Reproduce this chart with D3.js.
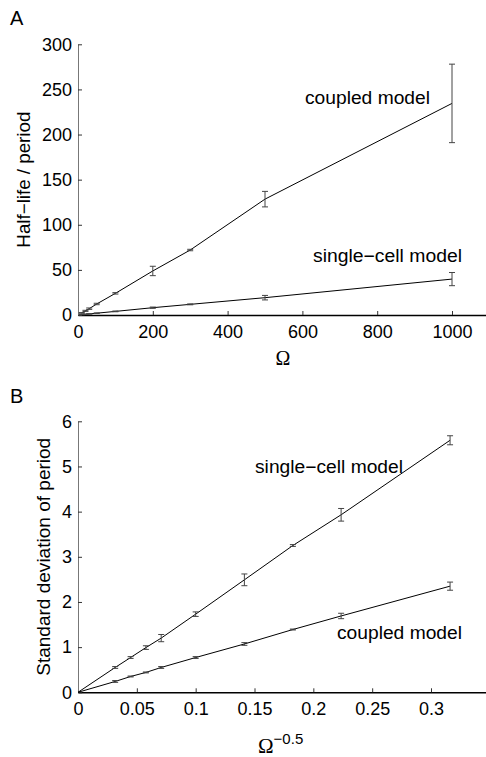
<!DOCTYPE html>
<html>
<head>
<meta charset="utf-8">
<script src="https://cdn.jsdelivr.net/npm/d3@7"></script>
<style>
    body { margin: 0; background: #fff; }
    text { font-family: "Liberation Sans", Arial, sans-serif; fill: #000; }
</style>
</head>
<body>
<div id="chart"></div>
<script>
// Panel A: half-life / period vs Omega
let omegaA = [10, 20, 30, 50, 100, 200, 300, 500, 1000];
let coupledA = [2.3, 4.6, 7, 12.2, 24, 48.8, 72, 128.4, 234.5];
let coupledAErr = [0.4, 0.6, 0.8, 0.8, 0.8, 5.2, 0.8, 8.6, 43.5];
let singleA = [0.4, 0.8, 1.2, 2, 4, 8.1, 11.8, 19.2, 39.8];
let singleAErr = [0.1, 0.1, 0.2, 0.3, 0.4, 0.7, 0.5, 2.5, 7.3];

// Panel B: standard deviation of period vs Omega^-0.5
let invSqrtB = [0, 0.0316, 0.0447, 0.0577, 0.0707, 0.1, 0.1414, 0.1826, 0.2236, 0.3162];
let singleB = [0, 0.55, 0.77, 0.99, 1.2, 1.73, 2.49, 3.25, 3.93, 5.58];
let singleBErr = [0, 0.02, 0.02, 0.04, 0.08, 0.05, 0.13, 0.02, 0.14, 0.1];
let coupledB = [0, 0.24, 0.35, 0.44, 0.55, 0.77, 1.07, 1.39, 1.69, 2.35];
let coupledBErr = [0, 0.02, 0.01, 0.01, 0.02, 0.02, 0.03, 0.01, 0.06, 0.09];

// ticks
let ticksAx = [0, 200, 400, 600, 800, 1000];
let ticksAy = [0, 50, 100, 150, 200, 250, 300];
let ticksBx = [0, 0.05, 0.1, 0.15, 0.2, 0.25, 0.3];
let ticksBy = [0, 1, 2, 3, 4, 5, 6];

let svg = d3.select("#chart").append("svg")
    .attr("width", 486)
    .attr("height", 757);

class visPanel {

    constructor(svg, cfg) {
        this.svg = svg;
        this.cfg = cfg;
        this.initVis();
    }

    initVis() {
        let vis = this;
        let cfg = vis.cfg;

        vis.x = d3.scaleLinear().domain(cfg.xDomain).range([cfg.left, cfg.right]);
        vis.y = d3.scaleLinear().domain(cfg.yDomain).range([cfg.bottom, cfg.top]);

        vis.g = vis.svg.append("g");

        // x axis (ticks pointing inward)
        let xAxis = d3.axisBottom(vis.x)
            .tickValues(cfg.xTicks)
            .tickFormat(d => String(d))
            .tickSizeInner(-4)
            .tickSizeOuter(0)
            .tickPadding(10);
        let gx = vis.g.append("g")
            .attr("transform", `translate(0, ${cfg.bottom})`)
            .call(xAxis);
        gx.select(".domain").attr("stroke", "#000").attr("stroke-width", 1.4);
        gx.selectAll(".tick line").attr("stroke", "#333");
        gx.selectAll("text").style("font-size", "18px").style("font-family", "Liberation Sans, Arial, sans-serif");

        let yAxis = d3.axisLeft(vis.y)
            .tickValues(cfg.yTicks)
            .tickFormat(d => String(d))
            .tickSizeInner(-4)
            .tickSizeOuter(0)
            .tickPadding(6);
        let gy = vis.g.append("g")
            .attr("transform", `translate(${cfg.left}, 0)`)
            .call(yAxis);
        gy.select(".domain").attr("stroke", "#777");
        gy.selectAll(".tick line").attr("stroke", "#333");
        gy.selectAll("text").style("font-size", "18px").style("font-family", "Liberation Sans, Arial, sans-serif");

        vis.drawSeries(cfg.xs, cfg.s1, cfg.s1Err);
        vis.drawSeries(cfg.xs, cfg.s2, cfg.s2Err);

        // panel letter
        vis.g.append("text")
            .attr("x", 10)
            .attr("y", cfg.letterY)
            .style("font-size", "20px")
            .text(cfg.letter);

        // y label
        vis.g.append("text")
            .attr("transform", `translate(${cfg.yLabelX}, ${(cfg.top + cfg.bottom) / 2}) rotate(-90)`)
            .attr("text-anchor", "middle")
            .attr("textLength", cfg.yLabelLen)
            .attr("lengthAdjust", "spacingAndGlyphs")
            .style("font-size", "18px")
            .text(cfg.yLabel);

        // annotations
        cfg.notes.forEach(n => {
            vis.g.append("text")
                .attr("x", n.x)
                .attr("y", n.y)
                .attr("textLength", n.len)
                .attr("lengthAdjust", "spacingAndGlyphs")
                .style("font-size", "18px")
                .text(n.text);
        });
    }

    drawSeries(xs, vals, errs) {
        let vis = this;
        let pts = xs.map((d, i) => ({x: d, v: vals[i], e: errs[i]}));

        let line = d3.line()
            .x(d => vis.x(d.x))
            .y(d => vis.y(d.v));

        vis.g.append("path")
            .datum(pts)
            .attr("d", line)
            .attr("fill", "none")
            .attr("stroke", "#000")
            .attr("stroke-width", 1);

        let eb = vis.g.append("g").selectAll("g.eb")
            .data(pts.filter(d => d.e > 0))
            .enter()
            .append("g");

        eb.append("line")
            .attr("x1", d => vis.x(d.x)).attr("x2", d => vis.x(d.x))
            .attr("y1", d => vis.y(d.v - d.e)).attr("y2", d => vis.y(d.v + d.e))
            .attr("stroke", "#444");
        eb.append("line")
            .attr("x1", d => vis.x(d.x) - 3).attr("x2", d => vis.x(d.x) + 3)
            .attr("y1", d => vis.y(d.v - d.e)).attr("y2", d => vis.y(d.v - d.e))
            .attr("stroke", "#444");
        eb.append("line")
            .attr("x1", d => vis.x(d.x) - 3).attr("x2", d => vis.x(d.x) + 3)
            .attr("y1", d => vis.y(d.v + d.e)).attr("y2", d => vis.y(d.v + d.e))
            .attr("stroke", "#444");
    }
}

let panelA = new visPanel(svg, {
    xDomain: [0, 1100], yDomain: [0, 300],
    left: 78, right: 78 + 1100 * 0.374, top: 44.3, bottom: 315,
    xTicks: ticksAx, yTicks: ticksAy,
    xs: omegaA, s1: coupledA, s1Err: coupledAErr, s2: singleA, s2Err: singleAErr,
    letter: "A", letterY: 25,
    yLabel: "Half\u2212life / period", yLabelX: 30, yLabelLen: 136,
    notes: [
        {text: "coupled model", x: 305, y: 104, len: 125},
        {text: "single\u2212cell model", x: 313, y: 262, len: 149}
    ]
});

let panelB = new visPanel(svg, {
    xDomain: [0, 0.35], yDomain: [0, 6],
    left: 78, right: 78 + 0.35 * 1176.7, top: 421.3, bottom: 692.3,
    xTicks: ticksBx, yTicks: ticksBy,
    xs: invSqrtB, s1: singleB, s1Err: singleBErr, s2: coupledB, s2Err: coupledBErr,
    letter: "B", letterY: 403,
    yLabel: "Standard deviation of period", yLabelX: 50, yLabelLen: 238,
    notes: [
        {text: "single\u2212cell model", x: 255, y: 473, len: 148},
        {text: "coupled model", x: 337, y: 639, len: 125}
    ]
});

// x labels with Omega
svg.append("text")
    .attr("x", 283).attr("y", 365)
    .attr("text-anchor", "middle")
    .style("font-family", "Liberation Serif, Times New Roman, serif")
    .style("font-size", "20px")
    .text("\u03A9");

let xlabB = svg.append("text")
    .attr("x", 258).attr("y", 753);
xlabB.append("tspan")
    .style("font-family", "Liberation Serif, Times New Roman, serif")
    .style("font-size", "21px")
    .text("\u03A9");
xlabB.append("tspan")
    .attr("dy", -9)
    .style("font-size", "15px")
    .text("\u22120.5");
</script>
</body>
</html>
